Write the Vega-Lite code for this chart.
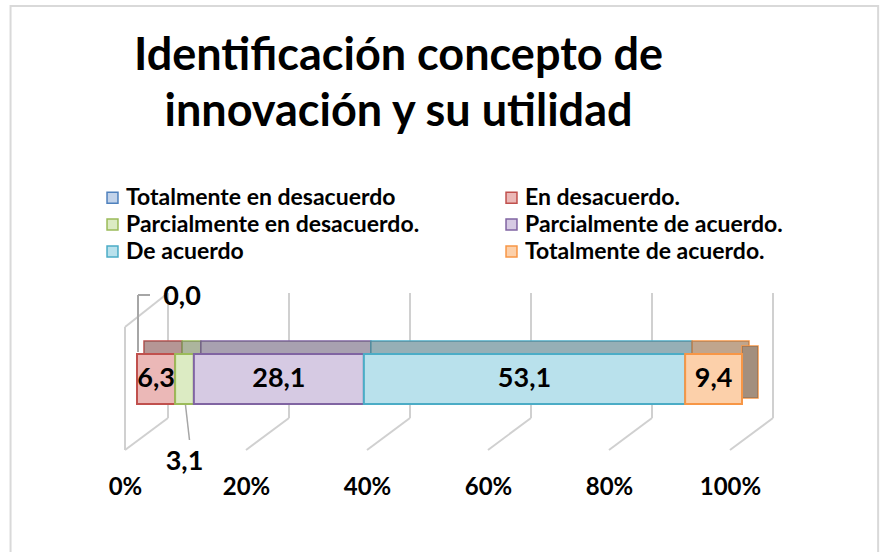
{
  "$schema": "https://vega.github.io/schema/vega-lite/v6.json",
  "autosize": {"type": "none"},
  "width": 605,
  "height": 180,
  "padding": {"left": 137, "top": 290, "right": 146, "bottom": 82},
  "background": "white",
  "config": {
    "view": {"stroke": null},
    "locale": {"number": {"decimal": ",", "thousands": ".", "grouping": [3], "currency": ["", ""]}},
    "font": "Lato"
  },
  "title": {
    "text": ["Identificación concepto de", "innovación y su utilidad"],
    "font": "Lato",
    "fontSize": 45,
    "fontWeight": "bold",
    "color": "black",
    "anchor": "middle",
    "frame": "group",
    "dx": -41,
    "lineHeight": 56,
    "offset": -130
  },
  "data": {
    "values": [
      {"cat": "Totalmente en desacuerdo", "value": 0.0, "order": 1},
      {"cat": "En desacuerdo.", "value": 6.3, "order": 2},
      {"cat": "Parcialmente en desacuerdo.", "value": 3.1, "order": 3},
      {"cat": "Parcialmente de acuerdo.", "value": 28.1, "order": 4},
      {"cat": "De acuerdo", "value": 53.1, "order": 5},
      {"cat": "Totalmente de acuerdo.", "value": 9.4, "order": 6}
    ]
  },
  "transform": [
    {"stack": "value", "groupby": [], "sort": [{"field": "order"}], "as": ["x0", "x1"]},
    {"calculate": "(datum.x0 + datum.x1) / 2", "as": "mid"}
  ],
  "layer": [
    {
      "data": {"values": [{"k": 1}]},
      "mark": {"type": "rect", "fill": null, "stroke": "#d9d9d9", "strokeWidth": 2},
      "encoding": {
        "x": {"datum": -20.9, "type": "quantitative", "scale": {"domain": [0, 100], "nice": false},
          "axis": {"values": [0, 20, 40, 60, 80, 100], "labelExpr": "datum.value + '%'", "domain": false, "ticks": false, "grid": false, "title": null, "labelOffset": -12, "labelPadding": 5, "labelFlush": false, "labelFont": "Lato", "labelFontSize": 24, "labelFontWeight": "bold", "labelColor": "black"}},
        "x2": {"datum": 122.5},
        "y": {"datum": -284, "type": "quantitative", "scale": {"domain": [0, 180], "reverse": true, "nice": false}, "axis": null},
        "y2": {"datum": 280}
      }
    },
    {
      "data": {"values": [{"v": 0}, {"v": 20}, {"v": 40}, {"v": 60}, {"v": 80}, {"v": 100}]},
      "mark": {"type": "rule", "color": "#d0d0d0", "strokeWidth": 2, "xOffset": 31},
      "encoding": {
        "x": {"field": "v", "type": "quantitative",
          "axis": {"values": [0, 20, 40, 60, 80, 100], "labelExpr": "datum.value + '%'", "domain": false, "ticks": false, "grid": false, "title": null, "labelOffset": -12, "labelPadding": 5, "labelFlush": false, "labelFont": "Lato", "labelFontSize": 24, "labelFontWeight": "bold", "labelColor": "black"}},
        "y": {"datum": 3, "type": "quantitative", "axis": null},
        "y2": {"datum": 128}
      }
    },
    {
      "data": {"values": [{"v": 0}, {"v": 20}, {"v": 40}, {"v": 60}, {"v": 80}, {"v": 100}]},
      "mark": {"type": "rule", "color": "#d0d0d0", "strokeWidth": 2, "xOffset": 31, "x2Offset": -12},
      "encoding": {
        "x": {"field": "v", "type": "quantitative",
          "axis": {"values": [0, 20, 40, 60, 80, 100], "labelExpr": "datum.value + '%'", "domain": false, "ticks": false, "grid": false, "title": null, "labelOffset": -12, "labelPadding": 5, "labelFlush": false, "labelFont": "Lato", "labelFontSize": 24, "labelFontWeight": "bold", "labelColor": "black"}},
        "x2": {"field": "v"},
        "y": {"datum": 128, "type": "quantitative", "axis": null},
        "y2": {"datum": 160}
      }
    },
    {
      "data": {"values": [{"k": 1}]},
      "mark": {"type": "rule", "color": "#d0d0d0", "strokeWidth": 2, "xOffset": -12},
      "encoding": {
        "x": {"datum": 0, "type": "quantitative",
          "axis": {"values": [0, 20, 40, 60, 80, 100], "labelExpr": "datum.value + '%'", "domain": false, "ticks": false, "grid": false, "title": null, "labelOffset": -12, "labelPadding": 5, "labelFlush": false, "labelFont": "Lato", "labelFontSize": 24, "labelFontWeight": "bold", "labelColor": "black"}},
        "y": {"datum": 37, "type": "quantitative", "axis": null},
        "y2": {"datum": 160}
      }
    },
    {
      "data": {"values": [{"k": 1}]},
      "mark": {"type": "rule", "color": "#d0d0d0", "strokeWidth": 2, "xOffset": -12, "x2Offset": 31},
      "encoding": {
        "x": {"datum": 0, "type": "quantitative",
          "axis": {"values": [0, 20, 40, 60, 80, 100], "labelExpr": "datum.value + '%'", "domain": false, "ticks": false, "grid": false, "title": null, "labelOffset": -12, "labelPadding": 5, "labelFlush": false, "labelFont": "Lato", "labelFontSize": 24, "labelFontWeight": "bold", "labelColor": "black"}},
        "x2": {"datum": 0},
        "y": {"datum": 37, "type": "quantitative", "axis": null},
        "y2": {"datum": 3}
      }
    },
    {
      "transform": [{"filter": "datum.value > 0"}],
      "mark": {"type": "rect", "strokeWidth": 1.5, "xOffset": 7, "x2Offset": 7},
      "encoding": {
        "x": {"field": "x0", "type": "quantitative",
          "axis": {"values": [0, 20, 40, 60, 80, 100], "labelExpr": "datum.value + '%'", "domain": false, "ticks": false, "grid": false, "title": null, "labelOffset": -12, "labelPadding": 5, "labelFlush": false, "labelFont": "Lato", "labelFontSize": 24, "labelFontWeight": "bold", "labelColor": "black"}},
        "x2": {"field": "x1"},
        "y": {"datum": 51, "type": "quantitative", "axis": null},
        "y2": {"datum": 64},
        "fill": {"field": "cat", "type": "nominal"},
        "stroke": {"field": "cat", "type": "nominal"}
      }
    },
    {
      "transform": [{"filter": "datum.value > 0"}],
      "mark": {"type": "rect", "fill": "#5e5e5e", "opacity": 0.38, "xOffset": 7, "x2Offset": 7},
      "encoding": {
        "x": {"field": "x0", "type": "quantitative",
          "axis": {"values": [0, 20, 40, 60, 80, 100], "labelExpr": "datum.value + '%'", "domain": false, "ticks": false, "grid": false, "title": null, "labelOffset": -12, "labelPadding": 5, "labelFlush": false, "labelFont": "Lato", "labelFontSize": 24, "labelFontWeight": "bold", "labelColor": "black"}},
        "x2": {"field": "x1"},
        "y": {"datum": 51, "type": "quantitative", "axis": null},
        "y2": {"datum": 64}
      }
    },
    {
      "transform": [{"filter": "datum.order == 6"}],
      "mark": {"type": "rect", "strokeWidth": 1.5, "x2Offset": 16},
      "encoding": {
        "x": {"field": "x1", "type": "quantitative",
          "axis": {"values": [0, 20, 40, 60, 80, 100], "labelExpr": "datum.value + '%'", "domain": false, "ticks": false, "grid": false, "title": null, "labelOffset": -12, "labelPadding": 5, "labelFlush": false, "labelFont": "Lato", "labelFontSize": 24, "labelFontWeight": "bold", "labelColor": "black"}},
        "x2": {"field": "x1"},
        "y": {"datum": 56, "type": "quantitative", "axis": null},
        "y2": {"datum": 108},
        "fill": {"field": "cat", "type": "nominal"},
        "stroke": {"field": "cat", "type": "nominal"}
      }
    },
    {
      "transform": [{"filter": "datum.order == 6"}],
      "mark": {"type": "rect", "fill": "#5a5a5a", "opacity": 0.55, "x2Offset": 16},
      "encoding": {
        "x": {"field": "x1", "type": "quantitative",
          "axis": {"values": [0, 20, 40, 60, 80, 100], "labelExpr": "datum.value + '%'", "domain": false, "ticks": false, "grid": false, "title": null, "labelOffset": -12, "labelPadding": 5, "labelFlush": false, "labelFont": "Lato", "labelFontSize": 24, "labelFontWeight": "bold", "labelColor": "black"}},
        "x2": {"field": "x1"},
        "y": {"datum": 56, "type": "quantitative", "axis": null},
        "y2": {"datum": 108}
      }
    },
    {
      "mark": {"type": "rect", "strokeWidth": 2},
      "encoding": {
        "x": {
          "field": "x0", "type": "quantitative",
          "scale": {"domain": [0, 100], "nice": false},
          "axis": {"values": [0, 20, 40, 60, 80, 100], "labelExpr": "datum.value + '%'", "domain": false, "ticks": false, "grid": false, "title": null, "labelOffset": -12, "labelPadding": 5, "labelFlush": false, "labelFont": "Lato", "labelFontSize": 24, "labelFontWeight": "bold", "labelColor": "black"}
        },
        "x2": {"field": "x1"},
        "y": {"datum": 64, "type": "quantitative", "axis": null},
        "y2": {"datum": 114},
        "fill": {
          "field": "cat", "type": "nominal",
          "scale": {
            "domain": ["Totalmente en desacuerdo", "Parcialmente en desacuerdo.", "De acuerdo", "En desacuerdo.", "Parcialmente de acuerdo.", "Totalmente de acuerdo."],
            "range": ["#c2d3ea", "#dcebc3", "#b9e1ec", "#ebb8b7", "#d6cae3", "#fcd0aa"]
          },
          "legend": {
            "title": null, "orient": "none", "legendX": -36, "legendY": -104,
            "columns": 2, "columnPadding": 80, "rowPadding": 3, "labelOffset": 2,
            "symbolType": "square", "symbolSize": 120, "symbolStrokeWidth": 1.5,
            "labelFont": "Lato", "labelFontSize": 23, "labelFontWeight": "bold", "labelColor": "black", "labelLimit": 400
          }
        },
        "stroke": {
          "field": "cat", "type": "nominal",
          "scale": {
            "domain": ["Totalmente en desacuerdo", "Parcialmente en desacuerdo.", "De acuerdo", "En desacuerdo.", "Parcialmente de acuerdo.", "Totalmente de acuerdo."],
            "range": ["#4f81bd", "#9bbb59", "#4bacc6", "#c0504d", "#8064a2", "#f79646"]
          },
          "legend": {
            "title": null, "orient": "none", "legendX": -36, "legendY": -104,
            "columns": 2, "columnPadding": 80, "rowPadding": 3, "labelOffset": 2,
            "symbolType": "square", "symbolSize": 120, "symbolStrokeWidth": 1.5,
            "labelFont": "Lato", "labelFontSize": 23, "labelFontWeight": "bold", "labelColor": "black", "labelLimit": 400
          }
        }
      }
    },
    {
      "transform": [{"filter": "datum.value >= 5"}],
      "mark": {"type": "text", "font": "Lato", "fontSize": 27, "fontWeight": "bold", "color": "black"},
      "encoding": {
        "x": {"field": "mid", "type": "quantitative",
          "axis": {"values": [0, 20, 40, 60, 80, 100], "labelExpr": "datum.value + '%'", "domain": false, "ticks": false, "grid": false, "title": null, "labelOffset": -12, "labelPadding": 5, "labelFlush": false, "labelFont": "Lato", "labelFontSize": 24, "labelFontWeight": "bold", "labelColor": "black"}},
        "y": {"datum": 89, "type": "quantitative", "axis": null},
        "text": {"field": "value", "type": "quantitative", "format": ".1f"}
      }
    },
    {
      "transform": [{"filter": "datum.order == 1"}],
      "mark": {"type": "text", "font": "Lato", "fontSize": 27, "fontWeight": "bold", "color": "black", "dx": 45},
      "encoding": {
        "x": {"field": "mid", "type": "quantitative",
          "axis": {"values": [0, 20, 40, 60, 80, 100], "labelExpr": "datum.value + '%'", "domain": false, "ticks": false, "grid": false, "title": null, "labelOffset": -12, "labelPadding": 5, "labelFlush": false, "labelFont": "Lato", "labelFontSize": 24, "labelFontWeight": "bold", "labelColor": "black"}},
        "y": {"datum": 7, "type": "quantitative", "axis": null},
        "text": {"field": "value", "type": "quantitative", "format": ".1f"}
      }
    },
    {
      "transform": [{"filter": "datum.order == 1"}],
      "mark": {"type": "rule", "color": "#a6a6a6", "strokeWidth": 2, "xOffset": 1},
      "encoding": {
        "x": {"field": "mid", "type": "quantitative",
          "axis": {"values": [0, 20, 40, 60, 80, 100], "labelExpr": "datum.value + '%'", "domain": false, "ticks": false, "grid": false, "title": null, "labelOffset": -12, "labelPadding": 5, "labelFlush": false, "labelFont": "Lato", "labelFontSize": 24, "labelFontWeight": "bold", "labelColor": "black"}},
        "y": {"datum": 5, "type": "quantitative", "axis": null},
        "y2": {"datum": 62}
      }
    },
    {
      "transform": [{"filter": "datum.order == 1"}],
      "mark": {"type": "rule", "color": "#a6a6a6", "strokeWidth": 2, "xOffset": 1, "x2Offset": 13},
      "encoding": {
        "x": {"field": "mid", "type": "quantitative",
          "axis": {"values": [0, 20, 40, 60, 80, 100], "labelExpr": "datum.value + '%'", "domain": false, "ticks": false, "grid": false, "title": null, "labelOffset": -12, "labelPadding": 5, "labelFlush": false, "labelFont": "Lato", "labelFontSize": 24, "labelFontWeight": "bold", "labelColor": "black"}},
        "x2": {"field": "mid"},
        "y": {"datum": 5, "type": "quantitative", "axis": null}
      }
    },
    {
      "transform": [{"filter": "datum.order == 3"}],
      "mark": {"type": "rule", "color": "#a6a6a6", "strokeWidth": 1.5, "xOffset": 1, "x2Offset": 5},
      "encoding": {
        "x": {"field": "mid", "type": "quantitative",
          "axis": {"values": [0, 20, 40, 60, 80, 100], "labelExpr": "datum.value + '%'", "domain": false, "ticks": false, "grid": false, "title": null, "labelOffset": -12, "labelPadding": 5, "labelFlush": false, "labelFont": "Lato", "labelFontSize": 24, "labelFontWeight": "bold", "labelColor": "black"}},
        "x2": {"field": "mid"},
        "y": {"datum": 115, "type": "quantitative", "axis": null},
        "y2": {"datum": 150}
      }
    },
    {
      "transform": [{"filter": "datum.order == 3"}],
      "mark": {"type": "text", "font": "Lato", "fontSize": 27, "fontWeight": "bold", "color": "black"},
      "encoding": {
        "x": {"field": "mid", "type": "quantitative",
          "axis": {"values": [0, 20, 40, 60, 80, 100], "labelExpr": "datum.value + '%'", "domain": false, "ticks": false, "grid": false, "title": null, "labelOffset": -12, "labelPadding": 5, "labelFlush": false, "labelFont": "Lato", "labelFontSize": 24, "labelFontWeight": "bold", "labelColor": "black"}},
        "y": {"datum": 172, "type": "quantitative", "axis": null},
        "text": {"field": "value", "type": "quantitative", "format": ".1f"}
      }
    }
  ]
}
